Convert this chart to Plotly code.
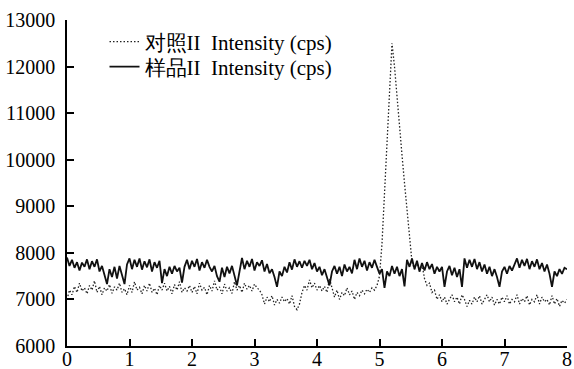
import plotly.graph_objects as go

# Hand-read intensity values, sampled every 0.04 on x from 0 to 8
sample_values = [
    7900, 7720, 7850, 7680, 7800, 7620, 7790, 7700, 7860, 7650, 7820, 7700, 7860,
    7600, 7720, 7520, 7330, 7650, 7480, 7700, 7450, 7720, 7520, 7330, 7750,
    7880, 7650, 7850, 7700, 7880, 7640, 7820, 7690, 7860, 7600, 7800, 7680, 7830,
    7350, 7650, 7500, 7700, 7550, 7720, 7600, 7680, 7360, 7700, 7850,
    7650, 7830, 7700, 7870, 7620, 7800, 7680, 7850, 7700,
    7600, 7720, 7500, 7380, 7680, 7480, 7700, 7560, 7720, 7500, 7300, 7600,
    7890, 7650, 7830, 7700, 7870, 7620, 7800, 7720, 7840, 7600, 7760,
    7560, 7650, 7480, 7270, 7600,
    7500, 7700, 7580, 7800, 7640, 7860, 7700, 7820, 7680,
    7830, 7720, 7850, 7650, 7780, 7600, 7700, 7520, 7650, 7480, 7300, 7600,
    7720, 7550, 7700, 7500, 7750, 7600, 7700, 7560,
    7850, 7650, 7880, 7700, 7830, 7620, 7800, 7680, 7850, 7700,
    7550, 7650, 7250, 7600,
    7500, 7720, 7550, 7700, 7500, 7650, 7280,
    7850, 7700, 7880, 7650, 7830, 7600, 7780,
    7620, 7800, 7650, 7760, 7550, 7700, 7600, 7700,
    7270,
    7600, 7720, 7520, 7680, 7480, 7650,
    7270,
    7880, 7680, 7850, 7700, 7870, 7650, 7800,
    7600, 7750, 7550, 7700, 7500, 7650, 7480,
    7270,
    7600, 7700, 7550, 7720, 7620, 7760,
    7880, 7680, 7850, 7720, 7870, 7650, 7820, 7700, 7860, 7650,
    7780, 7600, 7750, 7550,
    7270,
    7600, 7500, 7650, 7550, 7680, 7650,
]

control_values = [
    7000, 7200, 7100, 7280, 7150, 7350, 7180, 7250, 7120, 7300, 7200, 7400, 7150,
    7280, 7100, 7250, 7180, 7320, 7130, 7270, 7200, 7350, 7150, 7230, 7100,
    7300, 7150, 7380, 7200, 7260, 7120, 7300, 7180, 7350, 7150, 7240, 7100, 7300,
    7200, 7350, 7180, 7280, 7120, 7320, 7200, 7380, 7150, 7250, 7180, 7300,
    7150, 7280, 7120, 7350, 7200, 7260, 7100, 7300, 7180, 7400, 7200, 7270, 7120,
    7330, 7180, 7250, 7130, 7380, 7200, 7300, 7150, 7350, 7220, 7300, 7180, 7330,
    7250, 7200,
    7100, 6900, 7050, 6950, 7080, 6880, 7000, 6920, 7050, 6950, 7020, 6900, 7080,
    6850, 6780, 6900,
    7150, 7300, 7200, 7420, 7250, 7350, 7200, 7300, 7180, 7280, 7150, 7450,
    7250, 7050, 7200, 7000, 7150, 7080, 7250, 7100, 7180, 7000, 7150, 7080, 7200,
    7120, 7220, 7150, 7250, 7200, 7300,
    7500,
    8200, 9300, 10400, 11500, 12500, 12000, 11300, 10700, 10100, 9500, 8900, 8300, 7800,
    7650, 7800, 7600, 7750,
    7450, 7300, 7350, 7150, 7200, 7000, 7100,
    6950, 7050, 6900, 7000, 7100, 6950, 7050, 6900, 7100, 7000, 6850, 6980, 6900,
    7050, 6950, 7080, 6900, 7000, 7100, 6950, 7050, 6880, 7000, 6900, 7050, 6950,
    7080, 6900, 7000, 6950, 7100, 6900, 7020, 6950, 7080, 6880, 7000, 6950, 7100,
    6900, 7050, 6950, 7000, 6880, 7080, 6900, 7020, 6850, 6980, 6920, 7000,
]

x_step = 0.04
x_sample = [round(i * x_step, 2) for i in range(len(sample_values))]
x_control = [round(i * x_step, 2) for i in range(len(control_values))]

x_ticks = [0, 1, 2, 3, 4, 5, 6, 7, 8]
x_tick_labels = ["0", "1", "2", "3", "4", "5", "6", "7", "8"]
y_ticks = [6000, 7000, 8000, 9000, 10000, 11000, 12000, 13000]
y_tick_labels = ["6000", "7000", "8000", "9000", "10000", "11000", "12000", "13000"]

FONT = "Liberation Serif"

fig = go.Figure()
fig.add_trace(go.Scatter(
    x=x_control, y=control_values, mode="lines",
    name="对照II\u00a0 Intensity (cps)", legend="legend",
    line=dict(color="#222222", width=1.3, dash="1.5px,2px"),
))
fig.add_trace(go.Scatter(
    x=x_sample, y=sample_values, mode="lines",
    name="样品II\u00a0 Intensity (cps)", legend="legend2",
    line=dict(color="#111111", width=1.8),
))

axis_common = dict(
    showgrid=False, zeroline=False, showline=True, linecolor="black",
    linewidth=1.5, ticks="inside", ticklen=7, tickwidth=1.5, tickcolor="black",
    tickfont=dict(family=FONT, size=20, color="black"), mirror=False,
    automargin=False,
)

fig.update_xaxes(range=[0, 8], tickvals=x_ticks, ticktext=x_tick_labels,
                 ticklabelstandoff=-6, **axis_common)
fig.update_yaxes(range=[6000, 13000], tickvals=y_ticks, ticktext=y_tick_labels,
                 ticklabelstandoff=6, **axis_common)

legend_common = dict(
    xanchor="left", yanchor="middle",
    bgcolor="rgba(0,0,0,0)", borderwidth=0,
    font=dict(family=FONT, size=21, color="black"),
    itemwidth=30, tracegroupgap=0,
)

fig.update_layout(
    width=574, height=369,
    margin=dict(l=67, r=7, t=20, b=23, autoexpand=False),
    paper_bgcolor="white", plot_bgcolor="white",
    font=dict(family=FONT, size=21, color="black"),
    showlegend=True,
    legend=dict(x=0.075, y=0.9325, **legend_common),
    legend2=dict(x=0.075, y=0.8558, **legend_common),
)

fig.write_html("out.html", config={"displayModeBar": False},
               post_script="document.body.style.margin='0';")
